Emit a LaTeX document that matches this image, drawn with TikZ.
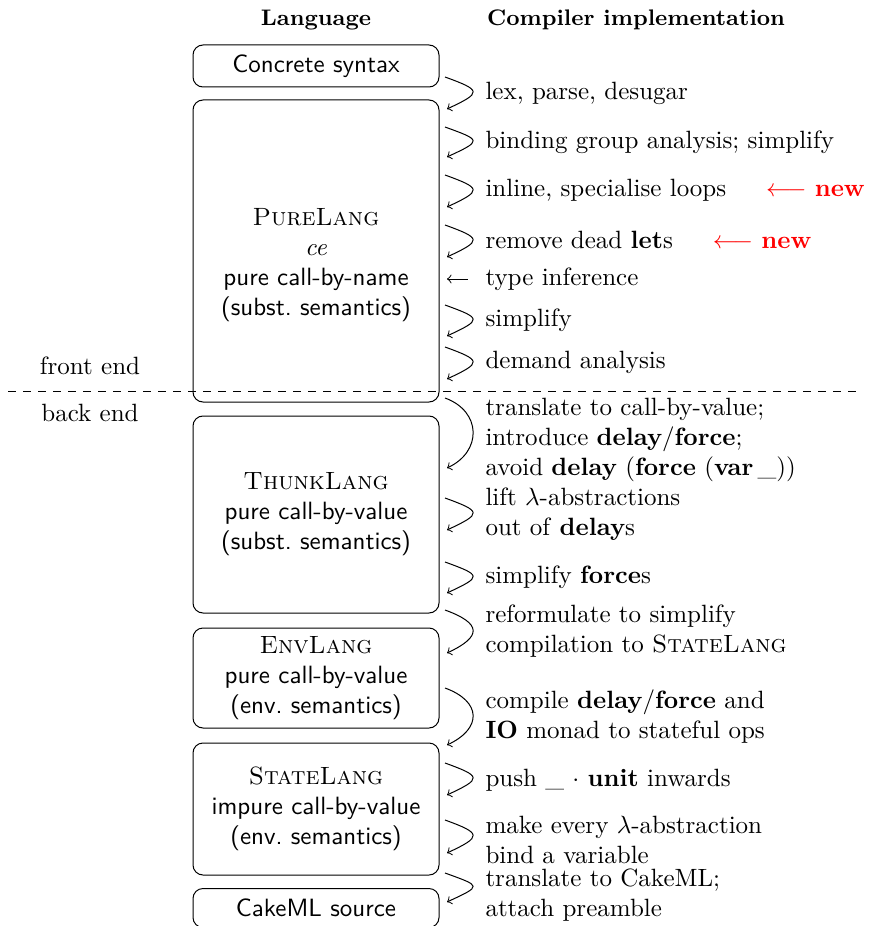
\documentclass[tikz,border=0pt]{standalone}
\usepackage{amsmath,amssymb}
\usepackage{tikz}
\usetikzlibrary{positioning}

\tikzset{
  langbox/.style={draw, rounded corners=4pt, minimum width=98.4pt, font=\sffamily, align=center},
  passtext/.style={anchor=west, align=left, inner sep=0pt},
  pass/.style={->, out=-20, in=25, distance=15.6pt},
}
\newcommand{\kw}[1]{\textbf{#1}}
\newcommand{\langname}[1]{\textrm{\textsc{#1}}}
\newcommand{\isnew}{\hspace{16pt}\textcolor{red}{$\longleftarrow$ \textbf{new}}}

\begin{document}
\begin{tikzpicture}[x=0.4pt, y=-0.4pt]
\useasboundingbox (0,0) rectangle (877,926);

% column headers
\node[font=\small\bfseries] (hlang) at (316,20) {Language};
\node[font=\small\bfseries] (hcomp) at (636,20) {Compiler implementation};

% languages
\node[langbox, minimum height=16.8pt] (concrete) at (316,66) {Concrete syntax};
\node[langbox, minimum height=120.8pt] (pure) at (316,251) {};
\node[font=\sffamily, align=center] (purelbl) at (316,265)
  {\langname{PureLang}\\ \textrm{\itshape ce}\\ pure call-by-name\\ (subst.\ semantics)};
\node[langbox, minimum height=78.8pt] (thunk) at (316,514.5)
  {\langname{ThunkLang}\\ pure call-by-value\\ (subst.\ semantics)};
\node[langbox, minimum height=40pt] (env) at (316,678)
  {\langname{EnvLang}\\ pure call-by-value\\ (env.\ semantics)};
\node[langbox, minimum height=52.8pt] (state) at (316,809)
  {\langname{StateLang}\\ impure call-by-value\\ (env.\ semantics)};
\node[langbox, minimum height=15.6pt] (cake) at (316,908) {CakeML source};

% front end / back end
\node (front) at (90,366) {front end};
\node (back) at (90,413) {back end};
\draw[dashed] (8,391) -- (860,391);

% compiler passes
\node[passtext] (lex) at (485,93) {lex, parse, desugar};
\node[passtext] (bga) at (485,142) {binding group analysis; simplify};
\node[passtext] (inl) at (485,190) {inline, specialise loops\isnew};
\node[passtext] (dead) at (485,240) {remove dead \kw{let}s\isnew};
\node[passtext] (tyinf) at (485,279) {type inference};
\node[passtext] (simp) at (485,320) {simplify};
\node[passtext] (dmd) at (485,362) {demand analysis};
\node[passtext] (cbv) at (485,440) {translate to call-by-value;\\
  introduce \kw{delay}/\kw{force};\\ avoid \kw{delay} (\kw{force} (\kw{var}\,\_))};
\node[passtext] (lift) at (485,514) {lift $\lambda$-abstractions\\ out of \kw{delay}s};
\node[passtext] (sforce) at (485,577) {simplify \kw{force}s};
\node[passtext] (reform) at (485,631) {reformulate to simplify\\ compilation to \textsc{StateLang}};
\node[passtext] (compile) at (485,717) {compile \kw{delay}/\kw{force} and\\ \kw{IO} monad to stateful ops};
\node[passtext] (push) at (485,780) {push \_ $\cdot$ \kw{unit} inwards};
\node[passtext] (bindvar) at (485,840) {make every $\lambda$-abstraction\\ bind a variable};
\node[passtext] (tocake) at (485,895) {translate to CakeML;\\ attach preamble};

% pass arrows
\foreach \a/\b [count=\n] in {77/109, 127/157, 175/207, 225/257, 305/336, 347/379,
    398/468, 498/530, 562/593, 610/653, 688/745, 763/795, 820/853, 873/902}{
  \coordinate (s\n) at (445,\a);
  \coordinate (t\n) at (447,\b);
  \draw[pass] (s\n) to (t\n);
}
\coordinate (tyend) at (447,279);
\draw[->] ([xshift=-7pt]tyinf.west) -- (tyend);
\end{tikzpicture}
\end{document}
